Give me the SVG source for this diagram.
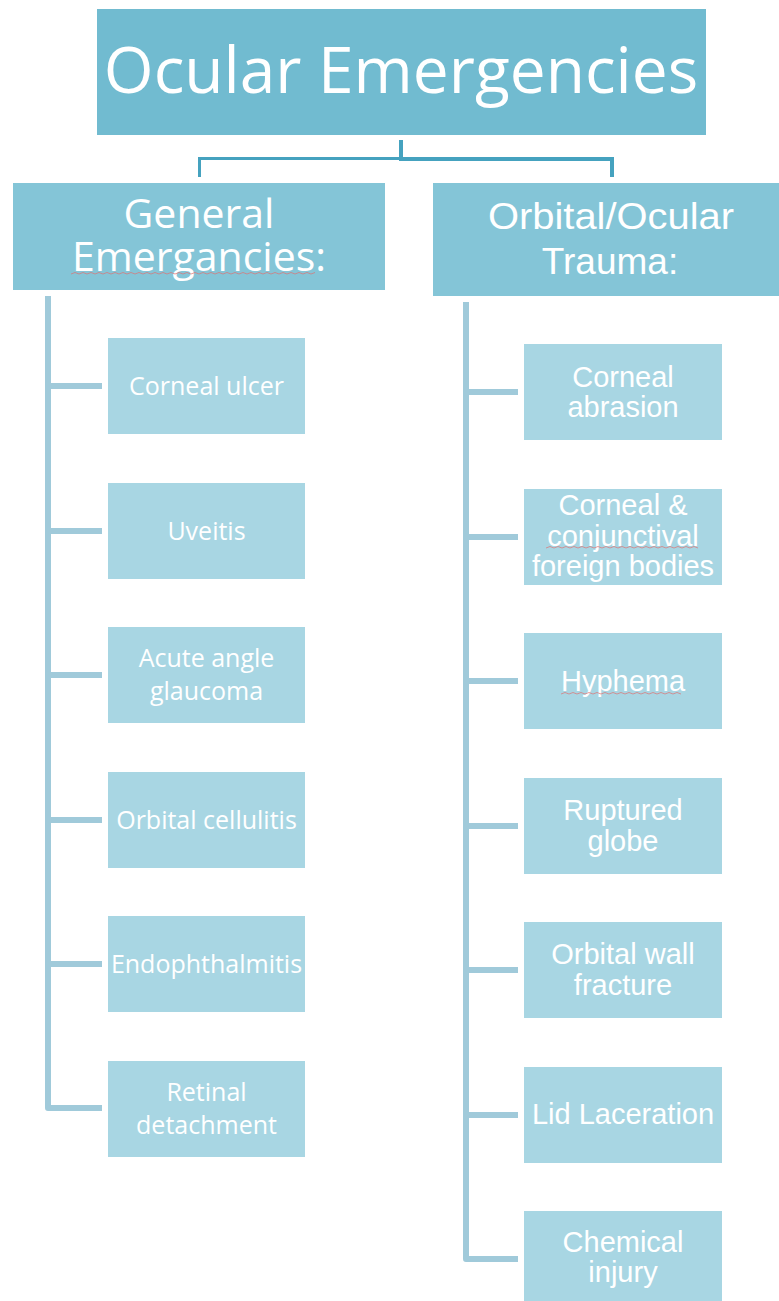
<svg xmlns="http://www.w3.org/2000/svg" width="779" height="1301" viewBox="0 0 779 1301">
<style>
.top{fill:#71BBD0}
.lvl{fill:#84C5D7}
.item{fill:#A8D6E3}
.t1{font-family:"Open Sans","DejaVu Sans",sans-serif;fill:#fff;text-anchor:middle}
.t2{font-family:"Liberation Sans",Arial,sans-serif;fill:#fff;text-anchor:middle}
.lt{font-size:25px}
.rt{font-size:29px}
.spine{fill:none;stroke:#A0CADA;stroke-width:6;stroke-linejoin:round}
.conn{fill:none;stroke:#45A2BF}
.sq{fill:none;stroke:#E07070;stroke-width:1;opacity:0.7}
</style>
<rect width="779" height="1301" fill="#fff"/>
<g id="connectors">
<path class="conn" stroke-width="4" d="M401 140 V159 H612 V177"/>
<path class="conn" stroke-width="3" d="M401 158.5 H199.5 V177"/>
<path class="spine" d="M48 296 V1108 H102 M48 386 H102 M48 531 H102 M48 675 H102 M48 820 H102 M48 964 H102"/>
<path class="spine" d="M466 302 V1259 H518 M466 392 H518 M466 537 H518 M466 681 H518 M466 826 H518 M466 970 H518 M466 1115 H518"/>
</g>
<g id="root">
<rect class="top" x="97" y="9" width="609" height="126"/>
<text class="t1" x="401" y="93" font-size="64">Ocular Emergencies</text>
</g>
<g id="general">
<rect class="lvl" x="13" y="183" width="372" height="107"/>
<text class="t1" x="199" y="228" font-size="41">General</text>
<text class="t1" x="199" y="271" font-size="41">Emergancies:</text>
<path class="sq" d="M71 274 l4 -1.5 4 1.5 4 -1.5 4 1.5 4 -1.5 4 1.5 4 -1.5 4 1.5 4 -1.5 4 1.5 4 -1.5 4 1.5 4 -1.5 4 1.5 4 -1.5 4 1.5 4 -1.5 4 1.5 4 -1.5 4 1.5 4 -1.5 4 1.5 4 -1.5 4 1.5 4 -1.5 4 1.5 4 -1.5 4 1.5 4 -1.5 4 1.5 4 -1.5 4 1.5 4 -1.5 4 1.5 4 -1.5 4 1.5 4 -1.5 4 1.5 4 -1.5 4 1.5 4 -1.5 4 1.5 4 -1.5 4 1.5 4 -1.5 4 1.5 4 -1.5 4 1.5 4 -1.5 4 1.5 4 -1.5 4 1.5 4 -1.5 4 1.5 4 -1.5 4 1.5 4 -1.5 4 1.5 4 -1.5 4 1.5 4 -1.5"/>
</g>
<g id="trauma">
<rect class="lvl" x="433" y="183" width="346" height="113"/>
<text class="t2" x="611" y="229" font-size="37" textLength="246" lengthAdjust="spacingAndGlyphs">Orbital/Ocular</text>
<text class="t2" x="610" y="274" font-size="37">Trauma:</text>
</g>
<g id="corneal-ulcer">
<rect class="item" x="108" y="338" width="197" height="96"/>
<text class="t1 lt" x="206.5" y="395">Corneal ulcer</text>
</g>
<g id="uveitis">
<rect class="item" x="108" y="483" width="197" height="96"/>
<text class="t1 lt" x="206.5" y="540">Uveitis</text>
</g>
<g id="acute-angle-glaucoma">
<rect class="item" x="108" y="627" width="197" height="96"/>
<text class="t1 lt" x="206.5" y="667">Acute angle</text>
<text class="t1 lt" x="206.5" y="700">glaucoma</text>
</g>
<g id="orbital-cellulitis">
<rect class="item" x="108" y="772" width="197" height="96"/>
<text class="t1 lt" x="206.5" y="829">Orbital cellulitis</text>
</g>
<g id="endophthalmitis">
<rect class="item" x="108" y="916" width="197" height="96"/>
<text class="t1 lt" x="206.5" y="973">Endophthalmitis</text>
</g>
<g id="retinal-detachment">
<rect class="item" x="108" y="1061" width="197" height="96"/>
<text class="t1 lt" x="206.5" y="1101">Retinal</text>
<text class="t1 lt" x="206.5" y="1134">detachment</text>
</g>
<g id="corneal-abrasion">
<rect class="item" x="524" y="344" width="198" height="96"/>
<text class="t2 rt" x="623" y="387">Corneal</text>
<text class="t2 rt" x="623" y="417">abrasion</text>
</g>
<g id="foreign-bodies">
<rect class="item" x="524" y="489" width="198" height="96"/>
<text class="t2 rt" x="623" y="515">Corneal &amp;</text>
<text class="t2 rt" x="623" y="546">conjunctival</text>
<text class="t2 rt" x="623" y="576">foreign bodies</text>
<path class="sq" d="M546 548 l4 -1.5 4 1.5 4 -1.5 4 1.5 4 -1.5 4 1.5 4 -1.5 4 1.5 4 -1.5 4 1.5 4 -1.5 4 1.5 4 -1.5 4 1.5 4 -1.5 4 1.5 4 -1.5 4 1.5 4 -1.5 4 1.5 4 -1.5 4 1.5 4 -1.5 4 1.5 4 -1.5 4 1.5 4 -1.5 4 1.5 4 -1.5 4 1.5 4 -1.5 4 1.5 4 -1.5 4 1.5 4 -1.5 4 1.5 4 -1.5 4 1.5"/>
</g>
<g id="hyphema">
<rect class="item" x="524" y="633" width="198" height="96"/>
<text class="t2 rt" x="623" y="691">Hyphema</text>
<path class="sq" d="M561 694 l4 -1.5 4 1.5 4 -1.5 4 1.5 4 -1.5 4 1.5 4 -1.5 4 1.5 4 -1.5 4 1.5 4 -1.5 4 1.5 4 -1.5 4 1.5 4 -1.5 4 1.5 4 -1.5 4 1.5 4 -1.5 4 1.5 4 -1.5 4 1.5 4 -1.5 4 1.5 4 -1.5 4 1.5 4 -1.5 4 1.5 4 -1.5 4 1.5"/>
</g>
<g id="ruptured-globe">
<rect class="item" x="524" y="778" width="198" height="96"/>
<text class="t2 rt" x="623" y="820">Ruptured</text>
<text class="t2 rt" x="623" y="851">globe</text>
</g>
<g id="orbital-wall-fracture">
<rect class="item" x="524" y="922" width="198" height="96"/>
<text class="t2 rt" x="623" y="964">Orbital wall</text>
<text class="t2 rt" x="623" y="995">fracture</text>
</g>
<g id="lid-laceration">
<rect class="item" x="524" y="1067" width="198" height="96"/>
<text class="t2 rt" x="623" y="1124">Lid Laceration</text>
</g>
<g id="chemical-injury">
<rect class="item" x="524" y="1211" width="198" height="96"/>
<text class="t2 rt" x="623" y="1252">Chemical</text>
<text class="t2 rt" x="623" y="1282">injury</text>
</g>
</svg>
